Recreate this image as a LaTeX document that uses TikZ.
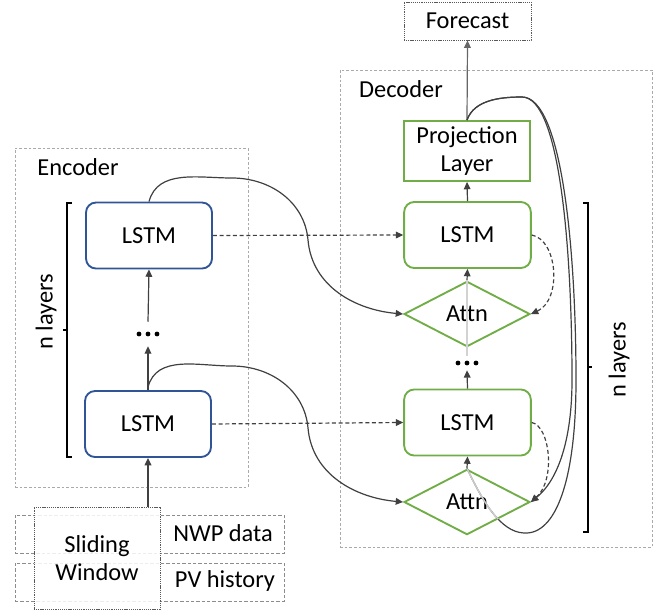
\documentclass[tikz,border=0pt]{standalone}
\usepackage{fontspec}
\setmainfont{Carlito}
\usetikzlibrary{shapes.geometric,arrows.meta,calc}
\definecolor{encblue}{RGB}{47,85,151}
\definecolor{decgreen}{RGB}{112,173,71}
\definecolor{boxgray}{RGB}{170,170,170}
\definecolor{linegray}{RGB}{64,64,64}
\begin{document}
\begin{tikzpicture}[x=0.75pt,y=-0.75pt,
  font=\fontsize{18.3pt}{21.5pt}\selectfont,
  tip/.style={-{Triangle[length=5.5pt,width=5pt]}},
  container/.style={draw=boxgray,dash pattern=on 2pt off 1.5pt,line width=0.6pt,inner sep=0pt},
  inbox/.style={draw=gray!90,dash pattern=on 2.5pt off 1.5pt,line width=0.7pt,inner sep=0pt},
  dotbox/.style={draw=gray!70!black,dash pattern=on 0.8pt off 0.6pt,line width=0.7pt,inner sep=0pt},
  enclstm/.style={draw=encblue,line width=1.4pt,rounded corners=7.5pt,minimum width=94.5pt,minimum height=49.5pt,inner sep=0pt},
  declstm/.style={draw=decgreen,line width=1.4pt,rounded corners=7.5pt,minimum width=95pt,minimum height=49.5pt,inner sep=0pt},
  projbox/.style={draw=decgreen,line width=1.4pt,minimum width=94.5pt,minimum height=45pt,inner sep=0pt,align=center},
  attnbox/.style={diamond,draw=decgreen,line width=1.4pt,minimum width=94.5pt,minimum height=49pt,inner sep=0pt,aspect=2},
  conn/.style={draw=linegray,line width=0.9pt},
  dconn/.style={draw=linegray,line width=0.9pt,dash pattern=on 3pt off 2pt},
  plain/.style={inner sep=0pt}
]
\useasboundingbox (0,0) rectangle (667,611);

% containers
\node[container,minimum width=174.75pt,minimum height=254.25pt] (encbox) at (131.5,317.5) {};
\node[container,minimum width=234pt,minimum height=357.75pt] (decbox) at (496,308.5) {};
\node[plain] (enclabel) at (78,167) {Encoder};
\node[plain] (declabel) at (401,89) {Decoder};

% input boxes
\node[inbox,minimum width=201.75pt,minimum height=28.5pt] (nwp) at (149.5,534) {};
\node[inbox,minimum width=201.75pt,minimum height=28.5pt] (pv) at (149.5,582) {};
\node[plain] (nwplabel) at (223,533) {NWP data};
\node[plain] (pvlabel) at (225,581) {PV history};
\node[dotbox,fill=white,fill opacity=0.85,text opacity=1,minimum width=94.5pt,minimum height=76.5pt,align=center] (win) at (97,558) {Sliding\\Window};

% encoder
\node[enclstm] (encL1) at (149,235.5) {LSTM};
\node[enclstm] (encL2) at (148,424) {LSTM};
\node[plain,minimum width=24pt,minimum height=18pt] (edots) at (148,334) {};
\foreach \dx in {-9,0,9} \fill ([xshift=\dx*0.75pt]edots.center) circle (1.8pt);

% decoder
\node[dotbox,minimum width=95.25pt,minimum height=28.5pt] (fc) at (467.5,21) {Forecast};
\node[projbox] (proj) at (467,151) {Projection\\Layer};
\node[declstm] (decL1) at (467.5,235) {LSTM};
\node[attnbox] (attn1) at (467,314) {Attn};
\node[plain,minimum width=24pt,minimum height=10.5pt] (ddots) at (467,363) {};
\foreach \dx in {-9,0,9} \fill ([xshift=\dx*0.75pt]ddots.center) circle (1.8pt);
\node[declstm] (decL2) at (467.5,422.5) {LSTM};
\node[attnbox] (attn2) at (467,502) {Attn};

% brackets
\coordinate (lbT) at (67,203);
\coordinate (lbB) at (67,457);
\coordinate (lbM) at (67,330);
\draw[line width=0.8pt] ([xshift=3.75pt]lbT) -- (lbT) -- (lbB) -- ([xshift=3.75pt]lbB);
\draw[line width=0.8pt] (lbM) -- ([xshift=-3pt]lbM);
\node[plain,rotate=90] (nlL) at (46,312) {n layers};
\coordinate (rbT) at (588,203);
\coordinate (rbB) at (588,532);
\coordinate (rbM) at (588,367);
\draw[line width=0.8pt] ([xshift=-3.75pt]rbT) -- (rbT) -- (rbB) -- ([xshift=-3.75pt]rbB);
\draw[line width=0.8pt] (rbM) -- ([xshift=3pt]rbM);
\node[plain,rotate=90] (nlR) at (619,360) {n layers};

% encoder arrows
\draw[conn,tip] (encL2.south |- win.north) -- (encL2.south);
\draw[conn,tip] (encL2.north) -- (edots.south);
\draw[conn,tip] (edots.north) -- (encL1.south);

% encoder -> decoder
\draw[dconn,tip] (encL1.east) -- (decL1.west);
\draw[dconn,tip] (encL2.east) -- (decL2.west);
\draw[conn,tip] (encL1.north) to[out=75,in=180] (232,178) to[out=0,in=95] (308,240) to[out=-85,in=175] (attn1.west);
\draw[conn,tip] ([yshift=2.25pt]encL2.north) to[out=75,in=180] (232,366) to[out=0,in=95] (308,428) to[out=-85,in=175] (attn2.west);

% decoder arrows
\draw[conn,tip] (attn1.north) -- (decL1.south);
\draw[conn,tip] (attn2.north) -- (decL2.south);
\draw[conn,tip] (decL2.north) -- (ddots.south);
\draw[draw=gray!35,line width=0.9pt] (ddots.north) -- (attn1.north);
\draw[conn,tip] (decL1.north) -- (proj.south);
\draw[draw=gray!80!black,line width=0.9pt,tip] (proj.north) -- (fc.south);
\draw[dconn,tip] (decL1.east) .. controls (558,240) and (562,300) .. (attn1.east);
\draw[dconn,tip] (decL2.east) .. controls (550,426) and (556,480) .. (attn2.east);

% feedback curves
\draw[conn,tip] (proj.north) .. controls (474,100) and (500,97) .. (522,97) .. controls (560,97) and (572,250) .. (572,380) .. controls (572,440) and (558,480) .. (attn2.east);
\draw[conn] (proj.north) .. controls (474,100) and (500,97) .. (522,97) .. controls (562,97) and (576,250) .. (576,380) .. controls (576,480) and (556,535) .. (524,533) .. controls (500,532) and (482,500) .. (attn2.north);
\begin{scope}
\clip (attn2.north) -- (attn2.east) -- (attn2.south) -- (attn2.west) -- cycle;
\draw[draw=gray!40,line width=1.1pt] (576,380) .. controls (576,480) and (556,535) .. (524,533) .. controls (500,532) and (482,500) .. (attn2.north);
\end{scope}
\end{tikzpicture}
\end{document}
